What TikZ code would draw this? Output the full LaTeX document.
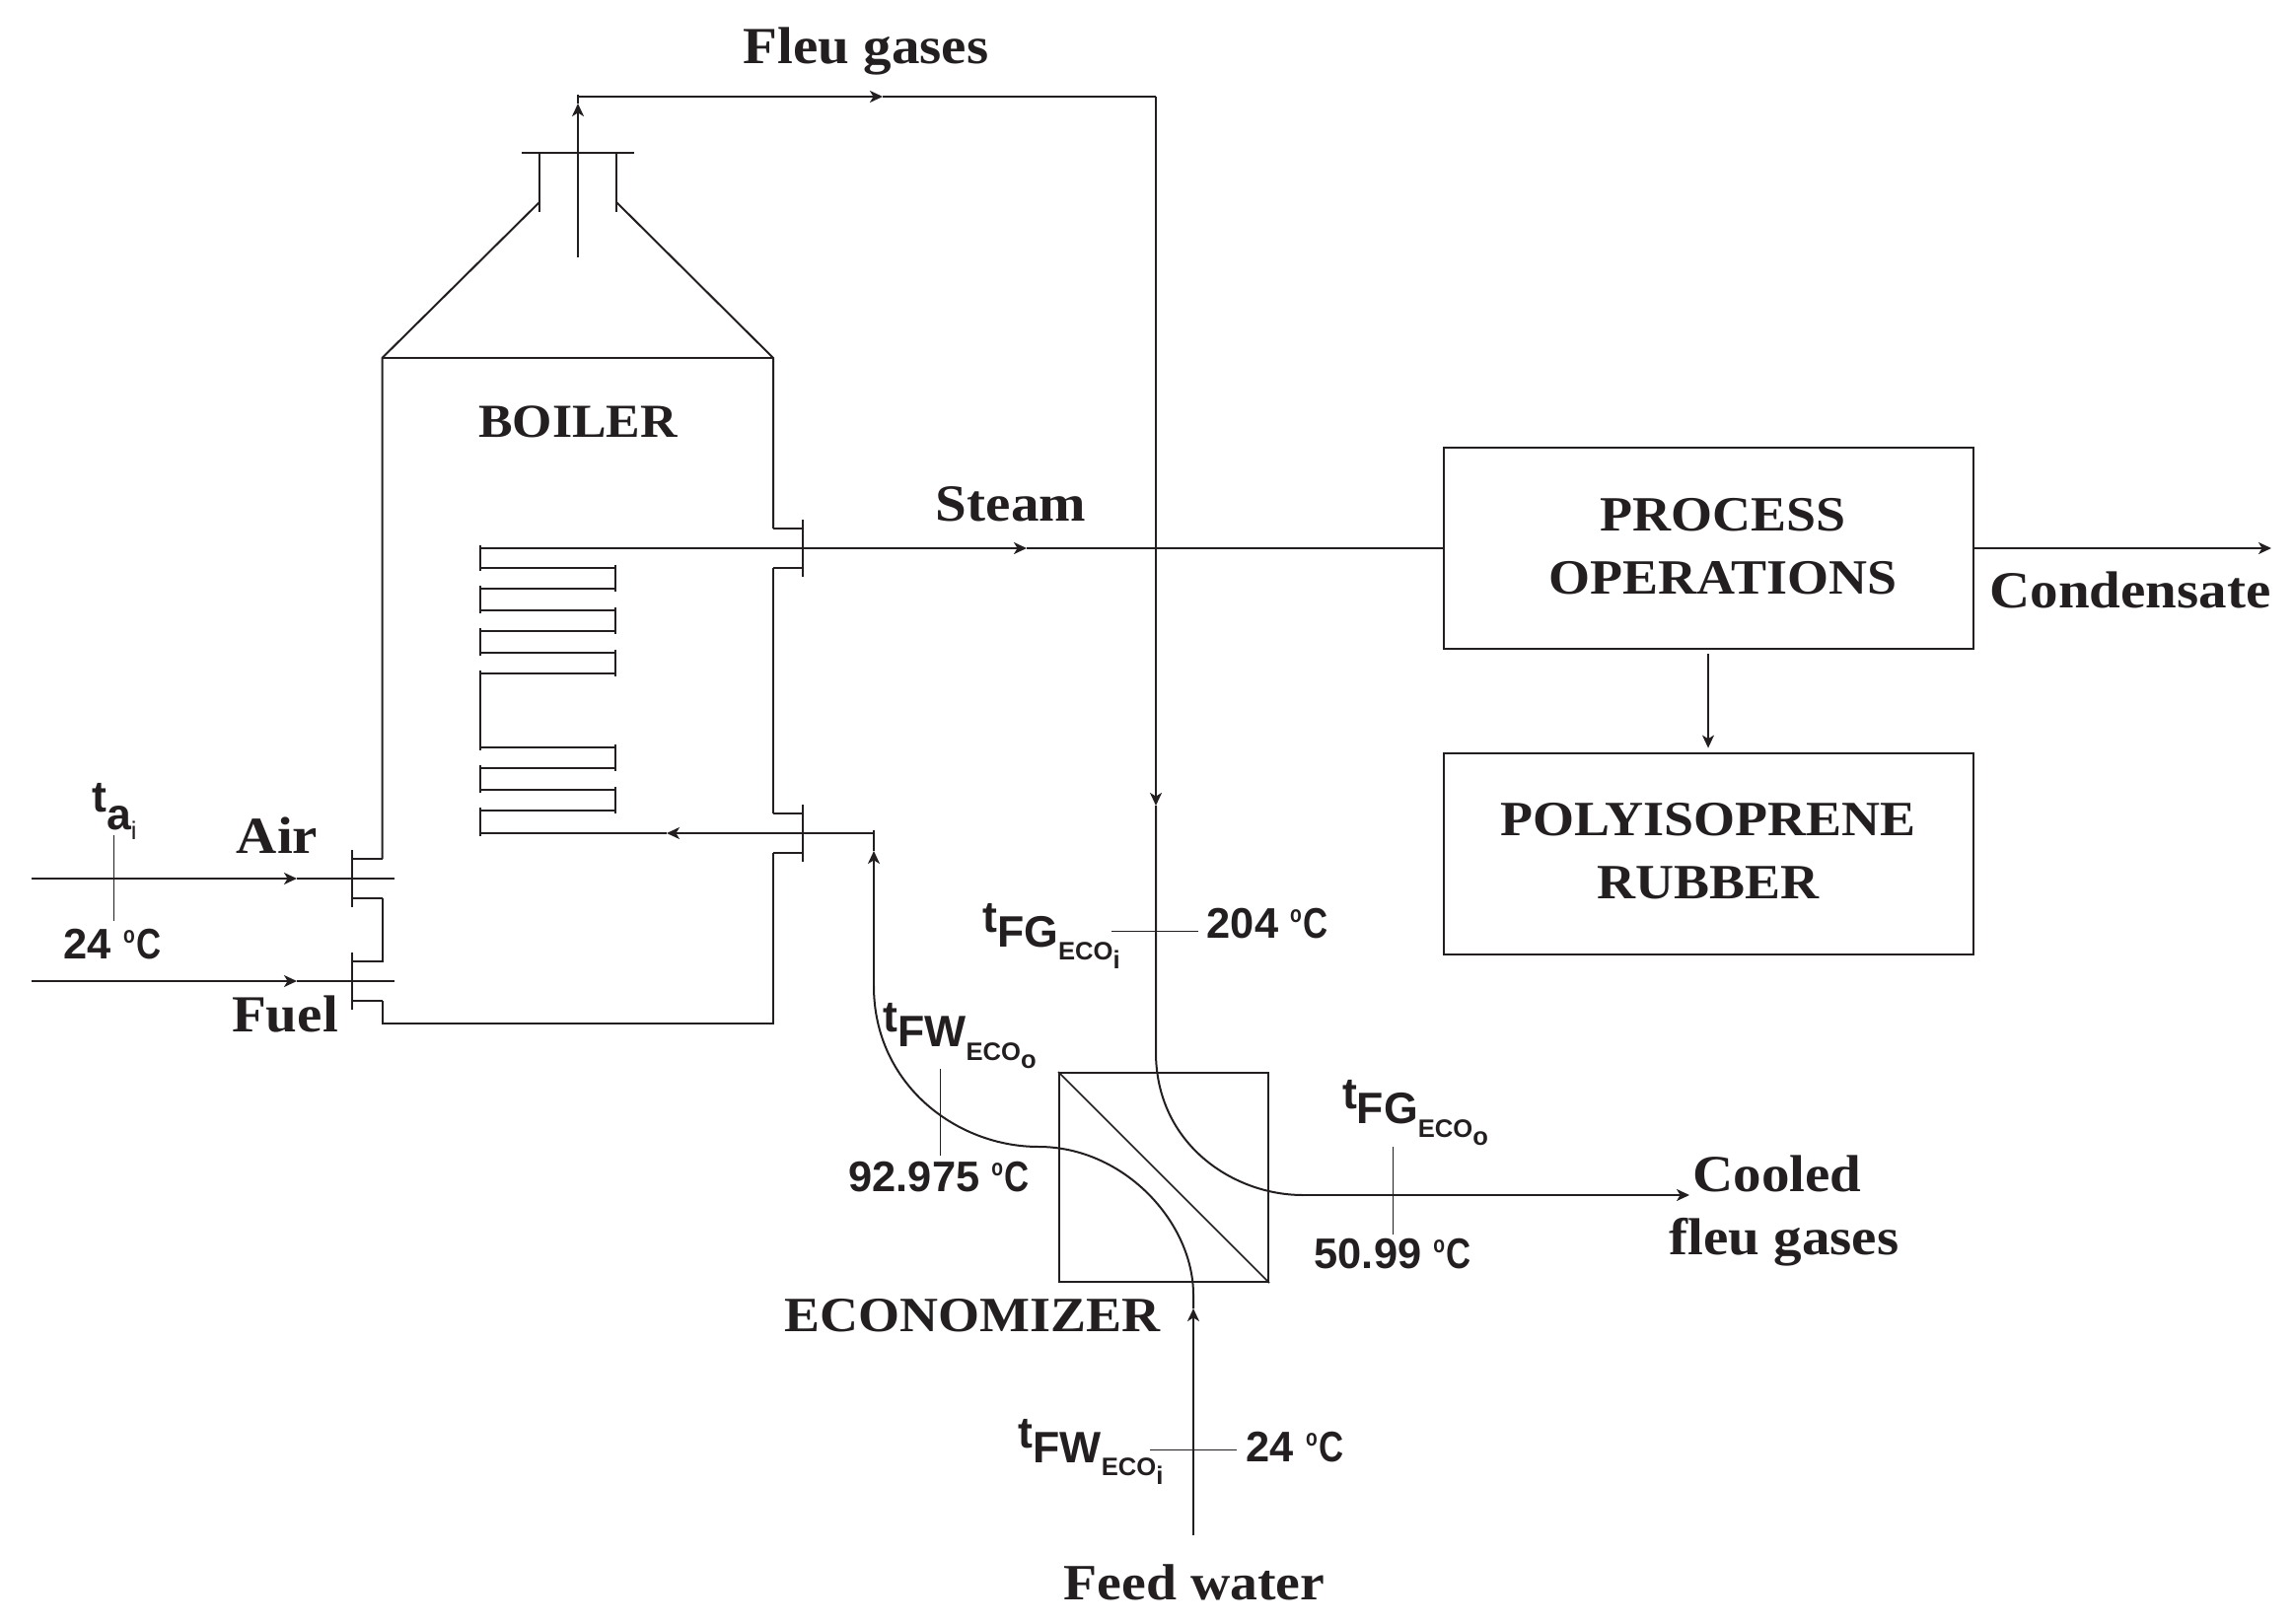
\documentclass[tikz,border=0pt]{standalone}
\usepackage{fontspec}
\setmainfont{Liberation Serif}[FakeStretch=1.08]
\newfontfamily\sanslabel{Liberation Sans}
\usetikzlibrary{arrows.meta}
\definecolor{ink}{HTML}{231F20}
\tikzset{
	pipe/.style={line width=1pt,draw=ink},
	leader/.style={line width=0.5pt,draw=ink},
	tag/.style={font=\bfseries\fontsize{26.4}{32}\selectfont,text=ink,align=center,inner sep=0pt},
	captag/.style={tag,font=\bfseries\fontsize{25}{32}\selectfont},
	temp/.style={font=\sanslabel\bfseries\fontsize{21.7}{24}\selectfont,text=ink,inner sep=0pt},
	sym/.style={temp,font=\sanslabel\bfseries\fontsize{22.3}{24}\selectfont},
	unitbox/.style={draw=ink,line width=1pt,minimum width=268.5pt,minimum height=102pt,inner sep=0pt},
	>={Stealth[length=6.5pt,width=6pt,inset=1.8pt]}
}
\newcommand{\tsym}[3]{\raisebox{7.5pt}{t}#1{\fontsize{12.8}{12}\selectfont\raisebox{-6.7pt}{#2\raisebox{-4.3pt}{#3}}}}
\newcommand{\degc}{\raisebox{8.3pt}{\fontsize{12}{12}\selectfont\scalebox{0.8}[1]{o}}\kern0.6pt\scalebox{0.8}[1]{C}}
\begin{document}
\begin{tikzpicture}[x=0.5pt,y=-0.5pt]
	\useasboundingbox (0,0) rectangle (2326,1647);

	% Puntos de las corrientes
	\coordinate (airIn) at (32,891);
	\coordinate (airTip) at (301,891);
	\coordinate (airEnd) at (400,891);
	\coordinate (fuelIn) at (32,995);
	\coordinate (fuelTip) at (301,995);
	\coordinate (fuelEnd) at (400,995);
	\coordinate (stackBase) at (586,261);
	\coordinate (stackTip) at (586,105);
	\coordinate (stackTop) at (586,96);
	\coordinate (fluCorner) at (586,98);
	\coordinate (fluTip) at (895,98);
	\coordinate (fluRight) at (1172,98);
	\coordinate (fluDownTip) at (1172,817);
	\coordinate (fluCurve) at (1172,1067);
	\coordinate (fluOut) at (1321,1212);
	\coordinate (coolTip) at (1713,1212);
	\coordinate (coilTop) at (487,556);
	\coordinate (steamTip) at (1041,556);
	\coordinate (coilBot) at (487,845);
	\coordinate (waterTip) at (676,845);
	\coordinate (waterCorner) at (886,845);
	\coordinate (riserTip) at (886,863);
	\coordinate (riserCap) at (886,842);
	\coordinate (riserBase) at (886,1000);
	\coordinate (midCurve) at (1053,1163);
	\coordinate (feedCurve) at (1210,1313);
	\coordinate (feedTip) at (1210,1327);
	\coordinate (feedIn) at (1210,1557);
	\coordinate (condOut) at (2303,556);

	% Caldera
	\draw[pipe] (387.5,871) -- (387.5,363) -- (547,205);
	\draw[pipe] (784,536) -- (784,363) -- (625,205);
	\draw[pipe] (387.5,363) -- (784,363);
	\draw[pipe] (387.5,911) -- (387.5,976);
	\draw[pipe] (387.5,1015) -- (387.5,1038) -- (784,1038) -- (784,865);
	\draw[pipe] (784,825) -- (784,576);
	\draw[pipe] (547,215) -- (547,155);
	\draw[pipe] (625,215) -- (625,155);
	\draw[pipe] (529,155) -- (643,155);

	% Bridas
	\foreach \cy in {556,845} {
		\draw[pipe] (814,\cy-29) -- (814,\cy+29);
		\draw[pipe] (784,\cy-20) -- (814,\cy-20);
		\draw[pipe] (784,\cy+20) -- (814,\cy+20);
	}
	\foreach \cy in {891,995} {
		\draw[pipe] (357,\cy-29) -- (357,\cy+29);
		\draw[pipe] (357,\cy-20) -- (387.5,\cy-20);
		\draw[pipe] (357,\cy+20) -- (387.5,\cy+20);
	}

	% Serpentin
	\foreach \ry in {576,597,619,640,662,683,758,779,801,822}
		\draw[pipe] (487,\ry) -- (624,\ry);
	\foreach \ya/\yb in {556/576,597/619,640/662,683/758,779/801,822/845}
		\draw[pipe,shorten <=-1.5pt,shorten >=-1.5pt] (487,\ya) -- (487,\yb);
	\foreach \ya/\yb in {576/597,619/640,662/683,758/779,801/822}
		\draw[pipe,shorten <=-1.5pt,shorten >=-1.5pt] (624,\ya) -- (624,\yb);

	% Equipos
	\node[unitbox] (process) at (1732,556) {};
	\node[unitbox] (rubber) at (1732,866) {};
	\node[draw=ink,line width=1pt,minimum size=106pt,inner sep=0pt] (eco) at (1180,1194) {};
	\draw[line width=0.8pt,draw=ink] (eco.north west) -- (eco.south east);

	% Corrientes
	\draw[pipe,->] (airIn) -- (airTip);
	\draw[pipe] (airTip) -- (airEnd);
	\draw[pipe,->] (fuelIn) -- (fuelTip);
	\draw[pipe] (fuelTip) -- (fuelEnd);
	\draw[pipe,->] (stackBase) -- (stackTip);
	\draw[pipe] (stackTip) -- (stackTop);
	\draw[pipe,->] (fluCorner) -- (fluTip);
	\draw[pipe] (fluTip) -- (fluRight);
	\draw[pipe,->] (fluRight) -- (fluDownTip);
	\draw[pipe] (fluDownTip) -- (fluCurve) .. controls (1172,1160) and (1250,1212) .. (fluOut);
	\draw[pipe,->] (fluOut) -- (coolTip);
	\draw[pipe,->] (coilTop) -- (steamTip);
	\draw[pipe] (steamTip) -- (process.west);
	\draw[pipe,->] (process.east) -- (condOut);
	\draw[line width=0.8pt,draw=ink,->,shorten <=2pt,shorten >=2.2pt] (process.south) -- (rubber.north);
	\draw[pipe,->] (waterCorner) -- (waterTip);
	\draw[pipe] (waterTip) -- (coilBot);
	\draw[pipe,->] (feedIn) -- (feedTip);
	\draw[pipe] (feedTip) -- (feedCurve) .. controls (1210,1240) and (1140,1163) .. (midCurve)
		.. controls (970,1163) and (886,1100) .. (riserBase);
	\draw[pipe,->] (riserBase) -- (riserTip);
	\draw[pipe] (riserTip) -- (riserCap);

	% Textos
	\node[tag] (fluText) at (878,52) {Fleu gases};
	\node[captag,font=\bfseries\fontsize{24}{32}\selectfont] (boilerText) at (586,428) {BOILER};
	\node[tag] (steamText) at (1025,511) {Steam};
	\node[captag] (processText) at (1747,554) {PROCESS\\OPERATIONS};
	\node[captag] (rubberText) at (1732,863) {POLYISOPRENE\\RUBBER};
	\node[tag] (condText) at (2160,598) {Condensate};
	\node[tag] (airText) at (281,847) {Air};
	\node[tag] (fuelText) at (289,1029) {Fuel};
	\node[captag] (ecoText) at (986,1334) {ECONOMIZER};
	\node[tag] (coolText) at (1809,1228) {Cooled\kern7pt\\fleu gases};
	\node[tag,font=\bfseries\fontsize{25.8}{32}\selectfont] (feedText) at (1211,1605) {Feed water};

	% Temperaturas
	\node[sym] (taText) at (116,823) {\raisebox{9pt}{t}a{\fontsize{12.8}{12}\selectfont\raisebox{-5pt}{\mdseries i}}};
	\node[temp] (taVal) at (114,958) {24 \degc};
	\node[sym] (fgiText) at (1066,949) {\tsym{FG}{ECO}{i}};
	\node[temp] (fgiVal) at (1285,937) {204 \degc};
	\node[sym] (fwoText) at (973,1051) {\tsym{FW}{ECO}{o}};
	\node[temp] (fwoVal) at (952,1194) {92.975 \degc};
	\node[sym] (fgoText) at (1435,1129) {\tsym{FG}{ECO}{o}};
	\node[temp] (fgoVal) at (1412,1272) {50.99 \degc};
	\node[sym] (fwiText) at (1106,1472) {\tsym{FW}{ECO}{i}};
	\node[temp] (fwiVal) at (1313,1468) {24 \degc};

	% Lineas de referencia
	\draw[leader] (115,847) -- (115,934);
	\draw[leader] (1127,944) -- (1215,944);
	\draw[leader] (953,1084) -- (953,1172);
	\draw[leader] (1412.5,1163) -- (1412.5,1252);
	\draw[leader] (1166,1470) -- (1254,1470);
\end{tikzpicture}
\end{document}
